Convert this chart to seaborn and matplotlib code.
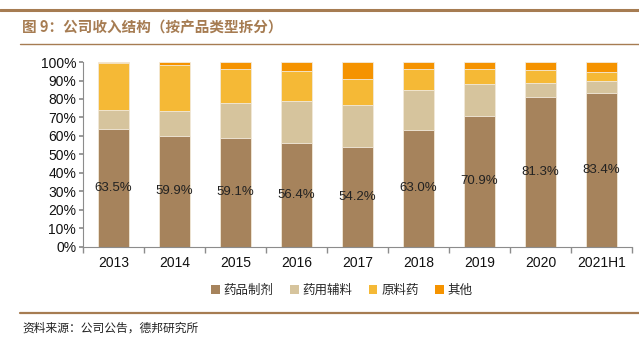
import matplotlib
matplotlib.use("Agg")
import matplotlib.pyplot as plt
import seaborn as sns
import pandas as pd
import numpy as np
from matplotlib.ticker import PercentFormatter, FixedLocator
from matplotlib.patches import Patch

years = ["2013", "2014", "2015", "2016", "2017", "2018", "2019", "2020", "2021H1"]
preparations = [63.5, 59.9, 59.1, 56.4, 54.2, 63.0, 70.9, 81.3, 83.4]   # 药品制剂
excipients = [10.3, 13.8, 18.8, 22.4, 22.6, 22.0, 17.3, 7.1, 6.3]        # 药用辅料
api = [25.9, 24.8, 18.5, 16.5, 14.1, 11.4, 8.2, 7.4, 5.0]               # 原料药
others = [0.3, 1.5, 3.6, 4.7, 9.1, 3.6, 3.6, 4.2, 5.3]                  # 其他
series_names = ["药品制剂", "药用辅料", "原料药", "其他"]
colors = ["#A6835C", "#D6C49D", "#F5B936", "#F59300"]

sns.set_theme(style="white")
plt.rcParams['font.family'] = ['Liberation Sans', 'Noto Sans CJK SC', 'DejaVu Sans']

fig = plt.figure(figsize=(6.39, 3.43), dpi=100)
ax = fig.add_axes([0.130, 0.281, 0.859, 0.538])

df = pd.DataFrame({"year": years, "p": preparations, "e": excipients, "a": api, "o": others})
layers = [df["p"], df["e"], df["a"], df["o"]]
cum = np.cumsum(np.vstack(layers), axis=0)

# draw from top layer (cumulative) down so lower segments overlay
for i in range(3, -1, -1):
    sns.barplot(x=df["year"], y=cum[i], color=colors[i], width=0.5, ax=ax,
                edgecolor="#F3EBDD", linewidth=0.6, saturation=1)

for xi, v in enumerate(preparations):
    ax.text(xi, v / 2, f"{v:.1f}%", ha="center", va="center", fontsize=9.5, color="#222222",
            family=['Liberation Sans', 'DejaVu Sans'])

ax.set_ylim(0, 100)
ax.set_xlim(-0.5, 8.5)
ax.yaxis.set_major_locator(FixedLocator(np.arange(0, 101, 10)))
ax.yaxis.set_major_formatter(PercentFormatter(decimals=0))
ax.set_xlabel("")
ax.set_ylabel("")
for s in ["top", "right"]:
    ax.spines[s].set_visible(False)
for s in ["left", "bottom"]:
    ax.spines[s].set_color("#8C8C8C")
    ax.spines[s].set_linewidth(0.8)
ax.tick_params(axis="y", which="major", length=3, color="#8C8C8C", labelsize=10, labelcolor="#111111", pad=2, left=True)
ax.tick_params(axis="x", which="major", length=0, labelsize=10, labelcolor="#111111", pad=7)
ax.xaxis.set_minor_locator(FixedLocator(np.arange(-0.5, 9, 1)))
ax.tick_params(axis="x", which="minor", length=4, color="#8C8C8C", bottom=True)
ax.grid(False)

handles = [Patch(facecolor=c, edgecolor="none") for c in colors]
fig.legend(handles, series_names, loc="center", bbox_to_anchor=(0.535, 0.153), ncol=4,
           frameon=False, fontsize=9, handlelength=0.7, handleheight=0.7, handletextpad=0.3,
           columnspacing=1.3, prop={'family': ['Noto Sans CJK SC'], 'size': 9})

brown = "#A67C52"
fig.add_artist(plt.Line2D([0, 1], [1 - 10 / 343, 1 - 10 / 343], color=brown, lw=2.2, transform=fig.transFigure))
fig.add_artist(plt.Line2D([20 / 639, 1], [1 - 43.5 / 343, 1 - 43.5 / 343], color=brown, lw=1.0, transform=fig.transFigure))
fig.add_artist(plt.Line2D([20 / 639, 1], [1 - 313 / 343, 1 - 313 / 343], color=brown, lw=1.6, transform=fig.transFigure))
fig.text(22 / 639, 1 - 28 / 343, "图 9：公司收入结构（按产品类型拆分）", fontsize=10.5, color=brown,
         fontweight="bold", va="center", ha="left", family=['Noto Sans CJK SC'])
fig.text(22 / 639, 1 - 328 / 343, "资料来源：公司公告，德邦研究所", fontsize=8.5, color="#222222",
         va="center", ha="left", family=['Noto Sans CJK SC'])

fig.savefig("out.png", dpi=100)
